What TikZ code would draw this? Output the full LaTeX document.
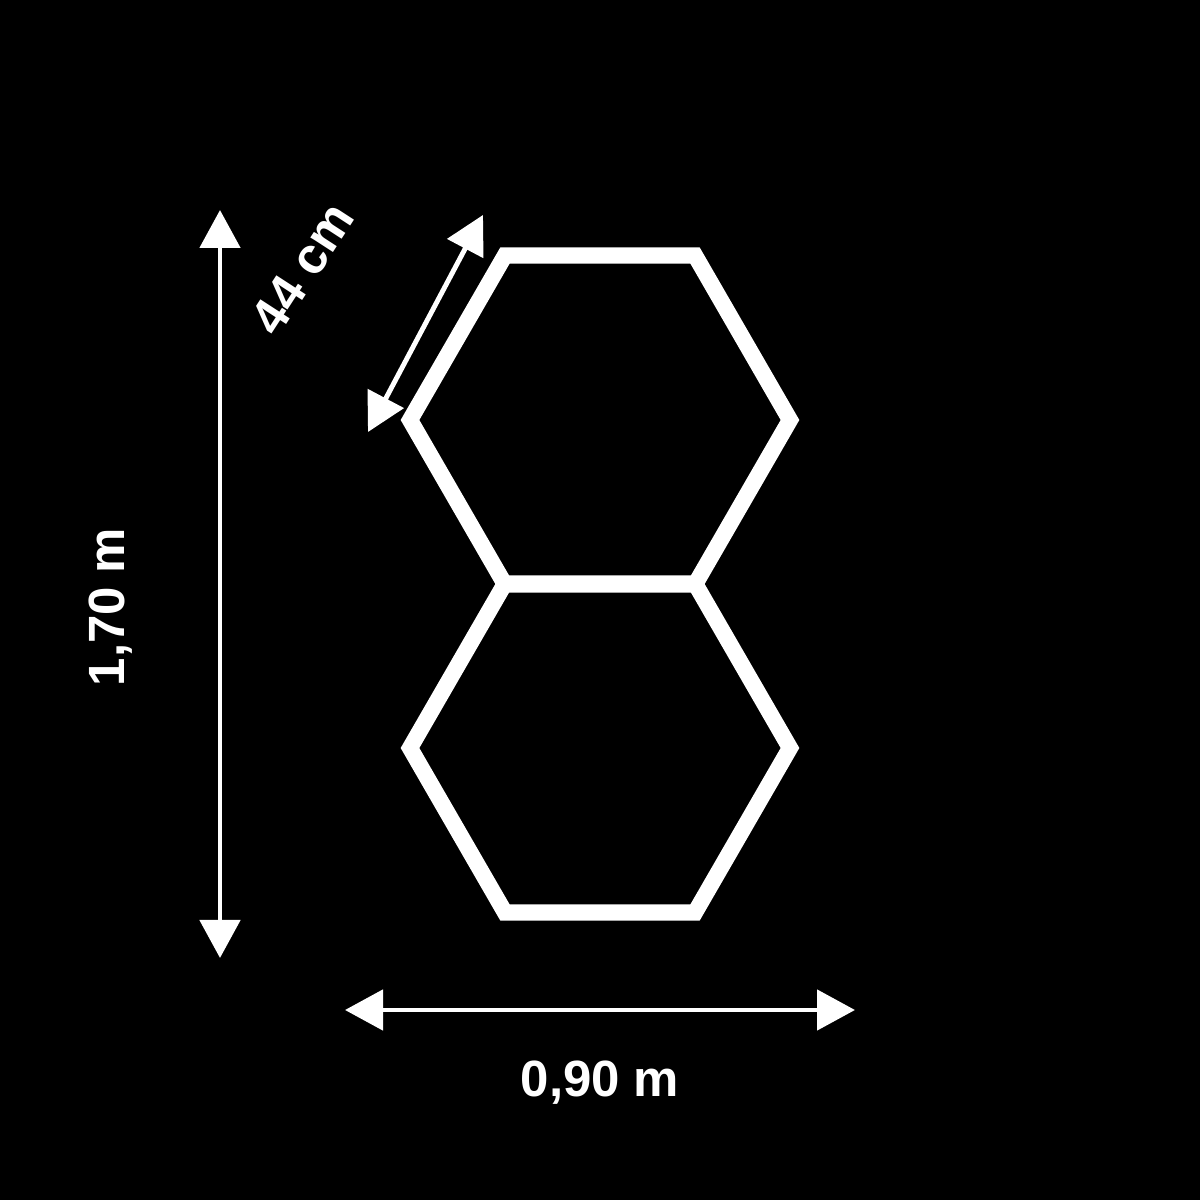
\documentclass[tikz,border=0pt]{standalone}
\usepackage{fontspec}
\setmainfont{Liberation Sans}
\usetikzlibrary{arrows.meta}
\tikzset{
    hexline/.style={white, line width=4.6pt},
    dimline/.style={white, line width=1.4pt, {Triangle[length=3.8mm,width=4mm]}-{Triangle[length=3.8mm,width=4mm]}},
    dimlabel/.style={white, font=\fontsize{14.5}{16}\selectfont\bfseries, inner sep=0pt}
}
\begin{document}
\begin{tikzpicture}
        \fill[black] (0,0) rectangle (12,12);
        % two hexagons, flat top, stacked
        \foreach \cy in {7.8, 4.52}{
            \draw[hexline] (7.9,\cy) -- ++(120:1.9) -- ++(180:1.9) -- ++(240:1.9) -- ++(300:1.9) -- ++(0:1.9) -- cycle;
        }
        % dimension arrows
        \coordinate (vtop) at (2.2,9.90);
        \coordinate (vbot) at (2.2,2.42);
        \coordinate (hleft) at (3.45,1.90);
        \coordinate (hright) at (8.55,1.90);
        \coordinate (dtop) at (4.83,9.85);
        \coordinate (dbot) at (3.68,7.68);
        \draw[dimline] (vbot) -- (vtop);
        \draw[dimline] (hleft) -- (hright);
        \draw[dimline] (dbot) -- (dtop);
        \node[dimlabel, anchor=base, rotate=90] (height) at (1.25,5.93) {1,70 m};
        \node[dimlabel, anchor=base] (width) at (6.0,1.04) {0,90 m};
        \node[dimlabel, anchor=base, rotate=57] (side) at (3.17,9.22) {44 cm};
    \end{tikzpicture}
\end{document}
